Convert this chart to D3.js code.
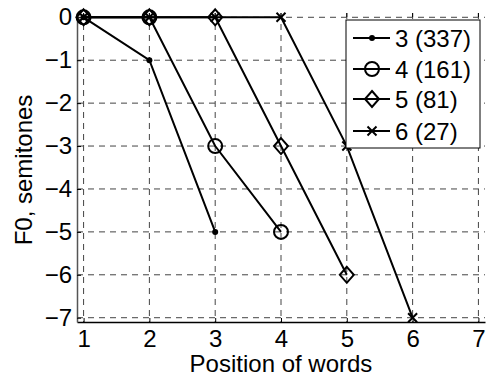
<!DOCTYPE html>
<html><head><meta charset="utf-8">
<script src="https://cdn.jsdelivr.net/npm/d3@7"></script>
<style>body{margin:0;background:#fff;} text{font-family:"Liberation Sans",Arial,sans-serif;}</style>
</head><body><svg id="c" width="486" height="376"></svg>
<script>
const xTicks = [1,2,3,4,5,6,7];
const yTicks = [0,-1,-2,-3,-4,-5,-6,-7];
const seriesNames = ["3 (337)","4 (161)","5 (81)","6 (27)"];
const seriesMarkers = ["dot","circle","diamond","cross"];
const s3 = [0,-1,-5];
const s4 = [0,0,-3,-5];
const s5 = [0,0,0,-3,-6];
const s6 = [0,0,0,0,-3,-7];
const seriesValues = [s3,s4,s5,s6];

const svg = d3.select("#c");
const L=77,R=485,T=13,B=322;
const x = d3.scaleLinear().domain([0.9,7.1]).range([L,R]);
const y = d3.scaleLinear().domain([-7.1,0.1]).range([B,T]);
const fs = 24;

// grid
const g = svg.append("g");
xTicks.forEach(t=>g.append("line").attr("x1",x(t)).attr("x2",x(t)).attr("y1",T).attr("y2",B)
  .attr("stroke","#444").attr("stroke-dasharray","6,5").attr("stroke-width",1));
yTicks.forEach(t=>g.append("line").attr("x1",L).attr("x2",R).attr("y1",y(t)).attr("y2",y(t))
  .attr("stroke","#444").attr("stroke-dasharray","6,5").attr("stroke-width",1));

// axes
const xa = svg.append("g").attr("transform",`translate(0,${B})`)
  .call(d3.axisBottom(x).tickValues(xTicks).tickSizeInner(-4).tickSizeOuter(0).tickPadding(8).tickFormat(d3.format("d")));
xa.select(".domain").attr("stroke","#000").attr("stroke-width",1.5);
xa.selectAll("text").attr("font-size",fs).attr("fill","#000").attr("font-family","Liberation Sans, Arial, sans-serif");
const ya = svg.append("g").attr("transform",`translate(${L},0)`)
  .call(d3.axisLeft(y).tickValues(yTicks).tickSizeInner(-4).tickSizeOuter(0).tickPadding(5).tickFormat(d=>d<0?"\u2212"+(-d):String(d)));
ya.select(".domain").attr("stroke","#555").attr("stroke-width",1.5);
ya.selectAll("text").attr("font-size",fs).attr("fill","#000").attr("font-family","Liberation Sans, Arial, sans-serif");

// top ticks
xTicks.forEach(t=>svg.append("line").attr("x1",x(t)).attr("x2",x(t)).attr("y1",T).attr("y2",T+4).attr("stroke","#000"));

// series
const line = d3.line().x((d,i)=>x(i+1)).y(d=>y(d));
function marker(sel,type,cx,cy){
  if(type==="dot") sel.append("circle").attr("cx",cx).attr("cy",cy).attr("r",3).attr("fill","#000");
  else if(type==="circle") sel.append("circle").attr("cx",cx).attr("cy",cy).attr("r",7).attr("fill","none").attr("stroke","#000").attr("stroke-width",2);
  else if(type==="diamond") sel.append("path").attr("d",`M${cx},${cy-8}L${cx+7},${cy}L${cx},${cy+8}L${cx-7},${cy}Z`).attr("fill","none").attr("stroke","#000").attr("stroke-width",2);
  else sel.append("path").attr("d",`M${cx-4.5},${cy-4.5}L${cx+4.5},${cy+4.5}M${cx-4.5},${cy+4.5}L${cx+4.5},${cy-4.5}`).attr("stroke","#000").attr("stroke-width",2);
}
seriesValues.forEach((vals,k)=>{
  const sg = svg.append("g");
  sg.append("path").attr("d",line(vals)).attr("fill","none").attr("stroke","#000").attr("stroke-width",2);
  vals.forEach((v,i)=>marker(sg,seriesMarkers[k],x(i+1),y(v)));
});

// legend
const lg = svg.append("g");
lg.append("rect").attr("x",346).attr("y",20).attr("width",134).attr("height",128).attr("fill","#fff").attr("stroke","#000").attr("stroke-width",1);
const ly = [38,69,99,131];
seriesNames.forEach((n,k)=>{
  lg.append("line").attr("x1",353).attr("x2",390).attr("y1",ly[k]).attr("y2",ly[k]).attr("stroke","#000").attr("stroke-width",2);
  marker(lg,seriesMarkers[k],372,ly[k]);
  lg.append("text").attr("x",395).attr("y",ly[k]+8.5).attr("font-size",fs).text(n);
});

// labels
svg.append("text").attr("x",281).attr("y",372).attr("text-anchor","middle").attr("font-size",fs).text("Position of words");
svg.append("text").attr("transform","translate(32,170) rotate(-90)").attr("text-anchor","middle").attr("font-size",fs).text("F0, semitones");
</script></body></html>
